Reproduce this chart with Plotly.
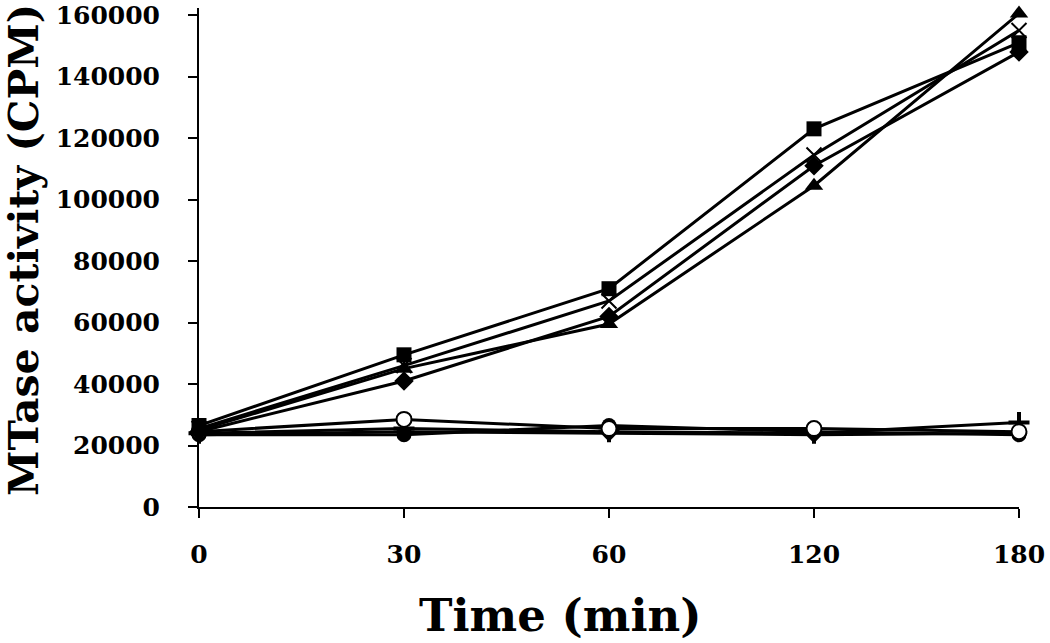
import plotly.graph_objects as go

time_labels = ["0", "30", "60", "120", "180"]

# upper (active) series
sq_vals = [26500, 49500, 71000, 123000, 151000]
x_vals = [25500, 46000, 67000, 114500, 155000]
tri_vals = [25000, 45000, 59500, 104500, 160500]
dia_vals = [24500, 41000, 62000, 111000, 148000]

# lower (inactive) series
ocirc_vals = [24500, 28500, 25500, 25500, 24500]
fcirc_vals = [23500, 23500, 26500, 24500, 23500]
plus_vals = [24000, 25500, 24500, 24000, 27500]
dia2_vals = [23500, 24500, 24000, 23500, 24000]

y_ticks = [0, 20000, 40000, 60000, 80000, 100000, 120000, 140000, 160000]
y_tick_text = [str(v) for v in y_ticks]

FONT = "DejaVu Serif"

fig = go.Figure()

def add(vals, symbol, size, color="black", lw=0, lc="black"):
    fig.add_trace(go.Scatter(
        x=time_labels, y=vals, mode="lines+markers",
        line=dict(color="black", width=3),
        marker=dict(symbol=symbol, size=size, color=color,
                    line=dict(color=lc, width=lw)),
        cliponaxis=False, showlegend=False, hoverinfo="skip"))

add(dia2_vals, "diamond", 13)
add(plus_vals, "cross-thin-open", 15, lw=4)
add(fcirc_vals, "circle", 15)
add(ocirc_vals, "circle", 15, color="white", lw=2)
add(dia_vals, "diamond", 15)
add(tri_vals, "triangle-up", 16)
add(x_vals, "x-thin-open", 15, lw=2)
add(sq_vals, "square", 15)

L, R, T, B = 199, 31, 8, 136
W, H = 1050, 643
PW, PH = W - L - R, H - T - B

fig.update_layout(
    width=W, height=H,
    margin=dict(l=L, r=R, t=T, b=B),
    paper_bgcolor="white", plot_bgcolor="white",
    font=dict(family=FONT, color="black"),
    xaxis=dict(
        type="category", range=[0, 4], automargin=False,
        showline=True, linecolor="black", linewidth=2,
        ticks="outside", ticklen=9, tickwidth=2, tickcolor="black",
        tickfont=dict(family=FONT, size=25, weight="bold"),
        ticklabelstandoff=15, ticklabeloverflow="allow",
        showgrid=False, zeroline=False,
    ),
    yaxis=dict(
        range=[0, 162300], tickvals=y_ticks, ticktext=y_tick_text,
        automargin=False,
        showline=True, linecolor="black", linewidth=2,
        ticks="outside", ticklen=9, tickwidth=2, tickcolor="black",
        tickfont=dict(family=FONT, size=25, weight="bold"),
        ticklabelstandoff=23, ticklabeloverflow="allow",
        showgrid=False, zeroline=False,
    ),
    annotations=[
        dict(text="Time (min)", xref="paper", yref="paper",
             x=(560 - L) / PW, y=-(615 - (T + PH)) / PH,
             showarrow=False, xanchor="center", yanchor="middle",
             font=dict(family=FONT, size=45, weight="bold")),
        dict(text="MTase activity (CPM)", xref="paper", yref="paper",
             x=(24 - L) / PW, y=((T + PH) - 250) / PH, textangle=-90,
             showarrow=False, xanchor="center", yanchor="middle",
             font=dict(family=FONT, size=41, weight="bold")),
    ],
)

fig.write_html("out.html",
               config={"displayModeBar": False},
               post_script="document.body.style.margin='0';")
